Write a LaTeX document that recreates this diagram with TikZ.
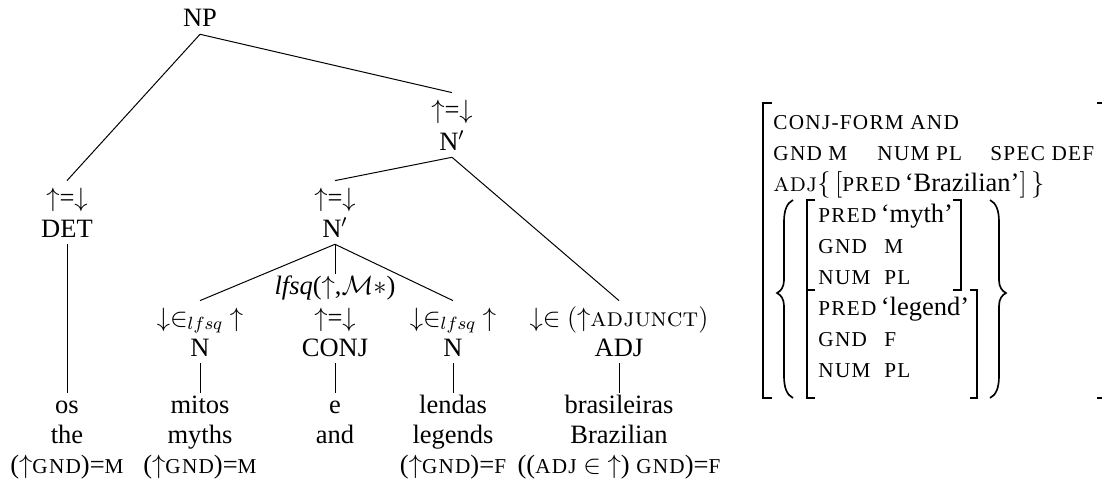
\documentclass[tikz,border=0pt]{standalone}
\usepackage{fontspec}
\setmainfont{Liberation Serif}
\newfontfamily\scfont[Scale=0.8,LetterSpace=6]{Liberation Serif}
\newcommand{\fsc}[1]{{\scfont #1}}
\newcommand{\lmsc}[1]{{\fontfamily{lmr}\selectfont\scshape #1}}
\newcommand{\fup}{\ensuremath{{\uparrow}}}
\newcommand{\fdn}{\ensuremath{{\downarrow}}}
\newcommand{\feq}{\fup=\fdn}
\newcommand{\fmem}{\ensuremath{{\downarrow}{\in}_{lfsq}}~\fup}

\tikzset{
  lbl/.style={anchor=base, inner xsep=0pt, inner ysep=0.7pt,
              text height=8.3pt, text depth=2.4pt},
  ann/.style={lbl, outer ysep=2.5pt},
  edge/.style={line width=0.45pt},
  avm/.style={anchor=base west, inner sep=0pt},
  brk/.style={line width=0.6pt},
  brace/.style={line width=0.75pt},
}

\begin{document}
\begin{tikzpicture}[x=0.4528pt, y=-0.4528pt, font=\fontsize{12}{14}\selectfont]
\useasboundingbox (0,0) rectangle (1102,485);

% ---- c-structure tree ----
\node[lbl] (np) at (200,27) {NP};

\node[ann] (detf) at (67,206) {\feq};
\node[lbl] (det)  at (67,237) {DET};

\node[ann] (nbarAf) at (452,118) {\feq};
\node[lbl] (nbarA)  at (452,150) {N$'$};

\node[ann] (nbarBf) at (335,206) {\feq};
\node[lbl] (nbarB)  at (335,237) {N$'$};

\node[ann] (nmythf) at (200,326) {\fmem};
\node[lbl] (nmyth)  at (200,356) {N};

\node[lbl] (conjg) at (335,294) {\textit{lfsq}(\fup,$\mathcal{M}{*}$)};
\node[lbl] (conjf) at (335,326) {\feq};
\node[lbl] (conj)  at (335,356) {CONJ};

\node[ann] (nlegf) at (453,326) {\fmem};
\node[lbl] (nleg)  at (453,356) {N};

\node[ann] (adjf) at (619,326) {\ensuremath{{\downarrow}{\in}} $({\uparrow}$\lmsc{adjunct}$)$};
\node[lbl] (adj)  at (619,356) {ADJ};

% words, glosses and lexical equations
\node[lbl] (os)    at (67,413) {os};
\node[lbl] (osgl)  at (67,443) {the};
\node[lbl] (oseq)  at (67,473) {(\fup\fsc{GND})=\fsc{M}};

\node[lbl] (mitos)   at (200,413) {mitos};
\node[lbl] (mitosgl) at (200,443) {myths};
\node[lbl] (mitoseq) at (200,473) {(\fup\fsc{GND})=\fsc{M}};

\node[lbl] (e)   at (335,413) {e};
\node[lbl] (egl) at (335,443) {and};

\node[lbl] (lendas)   at (453,413) {lendas};
\node[lbl] (lendasgl) at (453,443) {legends};
\node[lbl] (lendaseq) at (453,473) {(\fup\fsc{GND})=\fsc{F}};

\node[lbl] (bras)   at (619,413) {brasileiras};
\node[lbl] (brasgl) at (619,443) {Brazilian};
\node[lbl] (braseq) at (619,473) {((\fsc{ADJ} $\in$ \fup) \fsc{GND})=\fsc{F}};

% branches
\draw[edge] (np.south) -- (detf.north);
\draw[edge] (np.south) -- (nbarAf.north);
\draw[edge] (nbarA.south) -- (nbarBf.north);
\draw[edge] (nbarA.south) -- (adjf.north);
\draw[edge] (nbarB.south) -- (nmythf.north);
\draw[edge] (nbarB.south) -- (conjg.north);
\draw[edge] (nbarB.south) -- (nlegf.north);
\draw[edge] (det.south) -- (os.north);
\draw[edge] (nmyth.south) -- (mitos.north);
\draw[edge] (conj.south) -- (e.north);
\draw[edge] (nleg.south) -- (lendas.north);
\draw[edge] (adj.south) -- (bras.north);

% ---- f-structure ----
\draw[brk] (772,103) -- (763,103) -- (763,398) -- (772,398);
\draw[brk] (1097,103) -- (1104,103) -- (1104,398) -- (1097,398);

\node[avm] (r1) at (773,129) {\fsc{CONJ-FORM AND}};
\node[avm] (r2a) at (773,160) {\fsc{GND M}};
\node[avm] (r2b) at (877,160) {\fsc{NUM PL}};
\node[avm] (r2c) at (990,160) {\fsc{SPEC DEF}};
\node[avm] (r3) at (773,191) {\lmsc{adj}$\bigl\{\,\bigl[$\fsc{PRED}\,‘Brazilian’$\bigr]\,\bigr\}$};

% set of conjuncts
\draw[brace] (793,200) .. controls (787,203) and (784,210) .. (784,222)
  -- (784,280) .. controls (784,287) and (781,291) .. (777,293)
  .. controls (781,295) and (784,299) .. (784,306)
  -- (784,376) .. controls (784,388) and (787,395) .. (793,398);
\draw[brace] (990,200) .. controls (996,203) and (999,210) .. (999,222)
  -- (999,280) .. controls (999,287) and (1002,291) .. (1006,293)
  .. controls (1002,295) and (999,299) .. (999,306)
  -- (999,376) .. controls (999,388) and (996,395) .. (990,398);

% first conjunct
\draw[brk] (815,200) -- (807,200) -- (807,290) -- (815,290);
\draw[brk] (953,200) -- (961,200) -- (961,290) -- (953,290);
\node[avm] (c1a) at (818,222) {\fsc{PRED}\,‘myth’};
\node[avm] (c1b) at (818,253) {\fsc{GND}};
\node[avm] (c1bv) at (884,253) {\fsc{M}};
\node[avm] (c1c) at (818,284) {\fsc{NUM}};
\node[avm] (c1cv) at (884,284) {\fsc{PL}};

% second conjunct
\draw[brk] (815,290) -- (807,290) -- (807,398) -- (815,398);
\draw[brk] (970,290) -- (977,290) -- (977,398) -- (970,398);
\node[avm] (c2a) at (818,315) {\fsc{PRED}\,‘legend’};
\node[avm] (c2b) at (818,346) {\fsc{GND}};
\node[avm] (c2bv) at (884,346) {\fsc{F}};
\node[avm] (c2c) at (818,377) {\fsc{NUM}};
\node[avm] (c2cv) at (884,377) {\fsc{PL}};
\end{tikzpicture}
\end{document}
